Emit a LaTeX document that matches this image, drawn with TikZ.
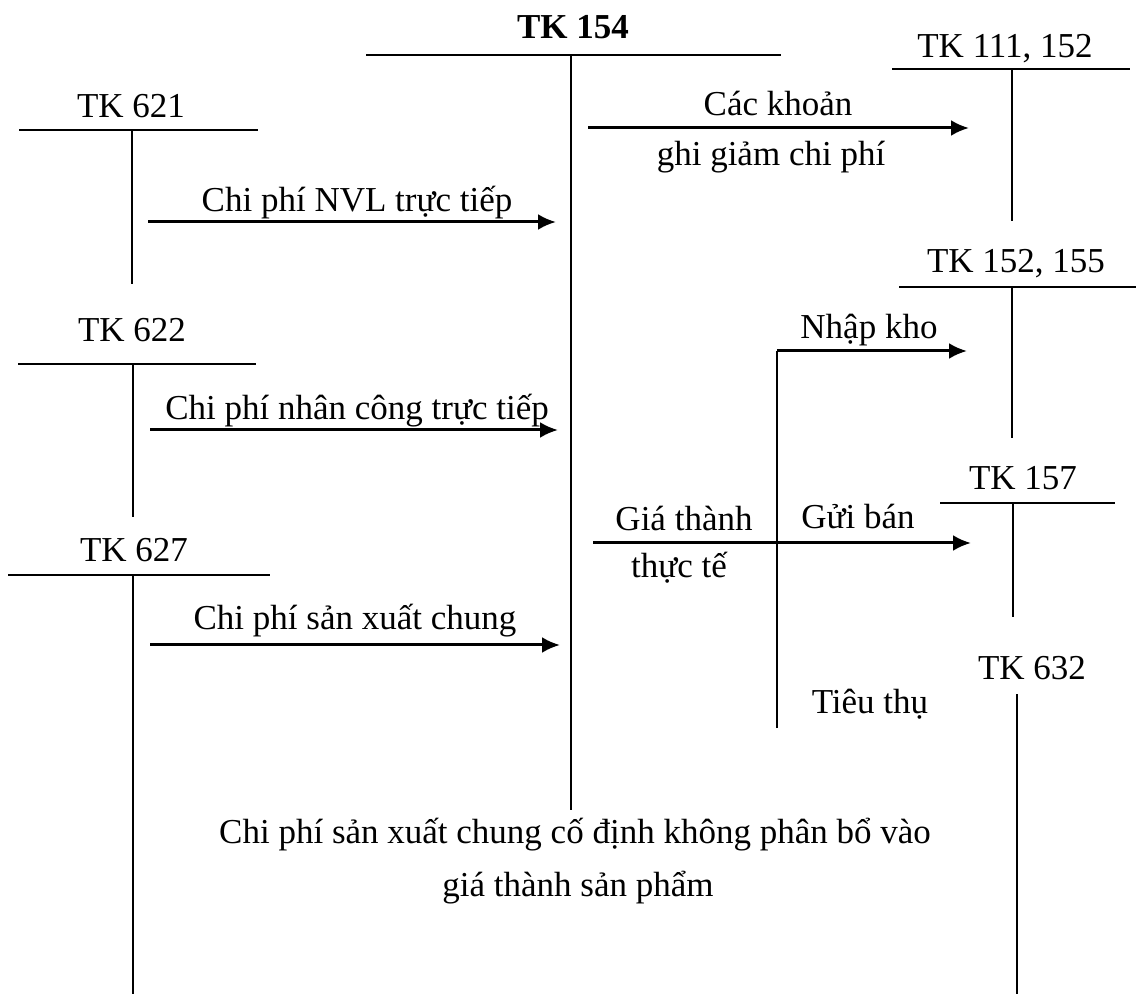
\documentclass[tikz,border=0pt]{standalone}
\usepackage{fontspec}
\setmainfont{Liberation Serif}
\usetikzlibrary{arrows.meta}
\begin{document}
\begin{tikzpicture}[x=0.5pt,y=-0.5pt,
  tline/.style={line width=1.1pt},
  flow/.style={line width=1.5pt,-{Latex[length=9pt,width=8pt]}},
  lbl/.style={font=\fontsize{17.5}{21}\selectfont, inner sep=0pt, anchor=base},
  blbl/.style={font=\fontsize{17.5}{21}\selectfont\bfseries, inner sep=0pt, anchor=base}]
\useasboundingbox (0,0) rectangle (1136,994);

% ---- T-account TK 154 (centre) ----
\node[blbl] (t154) at (573,39) {TK 154};
\coordinate (t154L) at (366,55);  \coordinate (t154R) at (781,55);
\coordinate (t154T) at (571,55);  \coordinate (t154B) at (571,810);
\draw[tline] (t154L) -- (t154R);
\draw[tline] (t154T) -- (t154B);

% ---- cost accounts on the left ----
\node[lbl] (t621) at (131,118) {TK 621};
\coordinate (t621L) at (19,130);  \coordinate (t621R) at (258,130);
\coordinate (t621T) at (132,130); \coordinate (t621B) at (132,284);
\draw[tline] (t621L) -- (t621R);
\draw[tline] (t621T) -- (t621B);

\node[lbl] (t622) at (132,342) {TK 622};
\coordinate (t622L) at (18,364);  \coordinate (t622R) at (256,364);
\coordinate (t622T) at (133,364); \coordinate (t622B) at (133,517);
\draw[tline] (t622L) -- (t622R);
\draw[tline] (t622T) -- (t622B);

\node[lbl] (t627) at (134,562) {TK 627};
\coordinate (t627L) at (8,575);   \coordinate (t627R) at (270,575);
\coordinate (t627T) at (133,575); \coordinate (t627B) at (133,994);
\draw[tline] (t627L) -- (t627R);
\draw[tline] (t627T) -- (t627B);

% ---- accounts on the right ----
\node[lbl] (t111) at (1005,58) {TK 111, 152};
\coordinate (t111L) at (892,69);  \coordinate (t111R) at (1130,69);
\coordinate (t111T) at (1012,69); \coordinate (t111B) at (1012,221);
\draw[tline] (t111L) -- (t111R);
\draw[tline] (t111T) -- (t111B);

\node[lbl] (t152) at (1016,273) {TK 152, 155};
\coordinate (t152L) at (899,287); \coordinate (t152R) at (1136,287);
\coordinate (t152T) at (1012,287);\coordinate (t152B) at (1012,438);
\draw[tline] (t152L) -- (t152R);
\draw[tline] (t152T) -- (t152B);

\node[lbl] (t157) at (1023,490) {TK 157};
\coordinate (t157L) at (940,503); \coordinate (t157R) at (1115,503);
\coordinate (t157T) at (1013,503);\coordinate (t157B) at (1013,617);
\draw[tline] (t157L) -- (t157R);
\draw[tline] (t157T) -- (t157B);

\node[lbl] (t632) at (1032,679) {TK 632};
\coordinate (t632T) at (1017,694);\coordinate (t632B) at (1017,994);
\draw[tline] (t632T) -- (t632B);

% ---- flows into TK 154 ----
\coordinate (f621s) at (148,222); \coordinate (f621e) at (556,222);
\draw[flow] (f621s) -- (f621e);
\node[lbl] (l621) at (357,212) {Chi phí NVL trực tiếp};

\coordinate (f622s) at (150,430); \coordinate (f622e) at (558,430);
\draw[flow] (f622s) -- (f622e);
\node[lbl] (l622) at (357,420) {Chi phí nhân công trực tiếp};

\coordinate (f627s) at (150,645); \coordinate (f627e) at (560,645);
\draw[flow] (f627s) -- (f627e);
\node[lbl] (l627) at (355,630) {Chi phí sản xuất chung};

% ---- flows out of TK 154 ----
\coordinate (fgs) at (588,128); \coordinate (fge) at (969,128);
\draw[flow] (fgs) -- (fge);
\node[lbl] (lg1) at (778,116) {Các khoản};
\node[lbl] (lg2) at (771,166) {ghi giảm chi phí};

\coordinate (fts) at (593,543); \coordinate (fte) at (971,543);
\draw[flow] (fts) -- (fte);
\node[lbl] (lt1) at (684,531) {Giá thành};
\node[lbl] (lt2) at (679,578) {thực tế};
\node[lbl] (lgb) at (858,529) {Gửi bán};

% branch: Nhập kho / Tiêu thụ
\coordinate (brB) at (777,728); \coordinate (brT) at (777,351);
\coordinate (fnke) at (967,351);
\draw[tline] (brB) -- (brT);
\draw[flow] (brT) -- (fnke);
\node[lbl] (lnk) at (869,339) {Nhập kho};
\node[lbl] (ltt) at (870,713) {Tiêu thụ};

% ---- note ----
\node[lbl] (note1) at (575,843) {Chi phí sản xuất chung cố định không phân bổ vào};
\node[lbl] (note2) at (578,896) {giá thành sản phẩm};
\end{tikzpicture}
\end{document}
